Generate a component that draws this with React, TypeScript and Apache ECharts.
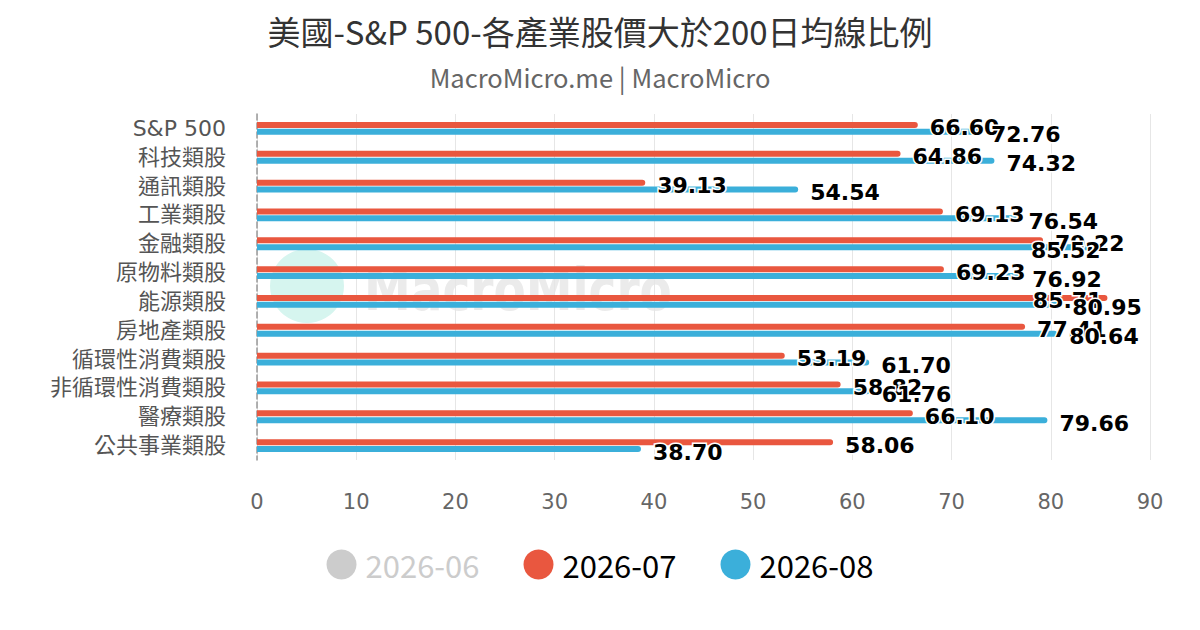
import React, { useEffect, useRef } from "react";
import * as echarts from "echarts";

const categories = [
  "S&P 500",
  "科技類股",
  "通訊類股",
  "工業類股",
  "金融類股",
  "原物料類股",
  "能源類股",
  "房地產類股",
  "循環性消費類股",
  "非循環性消費類股",
  "醫療類股",
  "公共事業類股",
];

const seriesNames = ["2026-06", "2026-07", "2026-08"];

// 2026-06 is switched off in the legend, so no values are shown for it
const jun: number[] = [];
const jul = [66.6, 64.86, 39.13, 69.13, 79.22, 69.23, 85.71, 77.41, 53.19, 58.82, 66.1, 58.06];
const aug = [72.76, 74.32, 54.54, 76.54, 85.52, 76.92, 80.95, 80.64, 61.7, 61.76, 79.66, 38.7];

const xTicks = { min: 0, max: 90, interval: 10 };

const RED = "#e9573f";
const BLUE = "#3bafda";
const GREY = "#cccccc";

const CJK = "'Noto Sans CJK TC', 'Noto Sans', sans-serif";
const SANS = "'DejaVu Sans', 'Noto Sans CJK TC', sans-serif";

// labels that would run past the plot edge are pulled inside the bar end
const toItems = (values: number[]) =>
  values.map((v) =>
    v > 84
      ? { value: v, label: { position: "insideRight", distance: 5 } }
      : { value: v }
  );

const barLabel = {
  show: true,
  position: "right",
  distance: 12,
  offset: [0, 3],
  color: "#000",
  fontSize: 22,
  fontWeight: "bold",
  fontFamily: SANS,
  textBorderColor: "#fff",
  textBorderWidth: 3,
  formatter: (p: any) => Number(p.value).toFixed(2),
};

export default function App() {
  const chartRef = useRef<HTMLDivElement>(null);

  useEffect(() => {
    if (!chartRef.current) return;
    const chart = echarts.init(chartRef.current, undefined, { renderer: "svg" });

    const option: any = {
      animation: false,
      backgroundColor: "#fff",
      title: {
        text: "美國-S&P 500-各產業股價大於200日均線比例",
        subtext: "MacroMicro.me | MacroMicro",
        left: "center",
        top: 9,
        itemGap: 17,
        textStyle: { color: "#333", fontSize: 33, fontWeight: "normal", fontFamily: CJK },
        subtextStyle: { color: "#666", fontSize: 25.5, fontFamily: CJK },
      },
      graphic: [
        {
          type: "circle",
          z: 0,
          shape: { cx: 307, cy: 286, r: 37 },
          style: { fill: "#d6f5ef" },
          silent: true,
        },
        {
          type: "text",
          z: 0,
          x: 364,
          y: 290,
          scaleX: 0.81,
          style: {
            text: "MacroMicro",
            fill: "#ebebeb",
            fontSize: 58,
            fontWeight: "bold",
            fontFamily: SANS,
            verticalAlign: "middle",
          },
          silent: true,
        },
      ],
      legend: {
        bottom: 45,
        left: "center",
        icon: "circle",
        itemWidth: 30,
        itemHeight: 30,
        itemGap: 44,
        inactiveColor: GREY,
        data: seriesNames,
        selected: { "2026-06": false },
        textStyle: { color: "#000", fontSize: 31, fontFamily: CJK, padding: [0, 0, 0, 4] },
      },
      grid: { left: 257, right: 50, top: 114, bottom: 170, containLabel: false },
      xAxis: {
        type: "value",
        min: xTicks.min,
        max: xTicks.max,
        interval: xTicks.interval,
        axisLine: { show: false },
        axisTick: { show: false },
        splitLine: { lineStyle: { color: "#e6e6e6", width: 1 } },
        axisLabel: { color: "#666", fontSize: 21, margin: 31, fontFamily: SANS },
      },
      yAxis: {
        type: "category",
        data: categories,
        inverse: true,
        axisTick: { show: false },
        axisLine: { lineStyle: { color: "#999", type: "dashed", width: 1.5 } },
        axisLabel: { color: "#555", fontSize: 22, margin: 31, fontFamily: SANS },
      },
      series: [
        {
          name: "2026-06",
          type: "bar",
          data: jun,
          itemStyle: { color: GREY },
          barWidth: 6,
        },
        {
          name: "2026-07",
          type: "bar",
          data: toItems(jul),
          barWidth: 6,
          barGap: "15%",
          itemStyle: { color: RED, borderRadius: [0, 3, 3, 0] },
          label: barLabel,
          z: 3,
        },
        {
          name: "2026-08",
          type: "bar",
          data: toItems(aug),
          barWidth: 6,
          barGap: "15%",
          itemStyle: { color: BLUE, borderRadius: [0, 3, 3, 0] },
          label: barLabel,
          z: 3,
        },
      ],
    };

    chart.setOption(option);
    return () => chart.dispose();
  }, []);

  return <div ref={chartRef} style={{ width: 1200, height: 630, margin: -8 }} />;
}
